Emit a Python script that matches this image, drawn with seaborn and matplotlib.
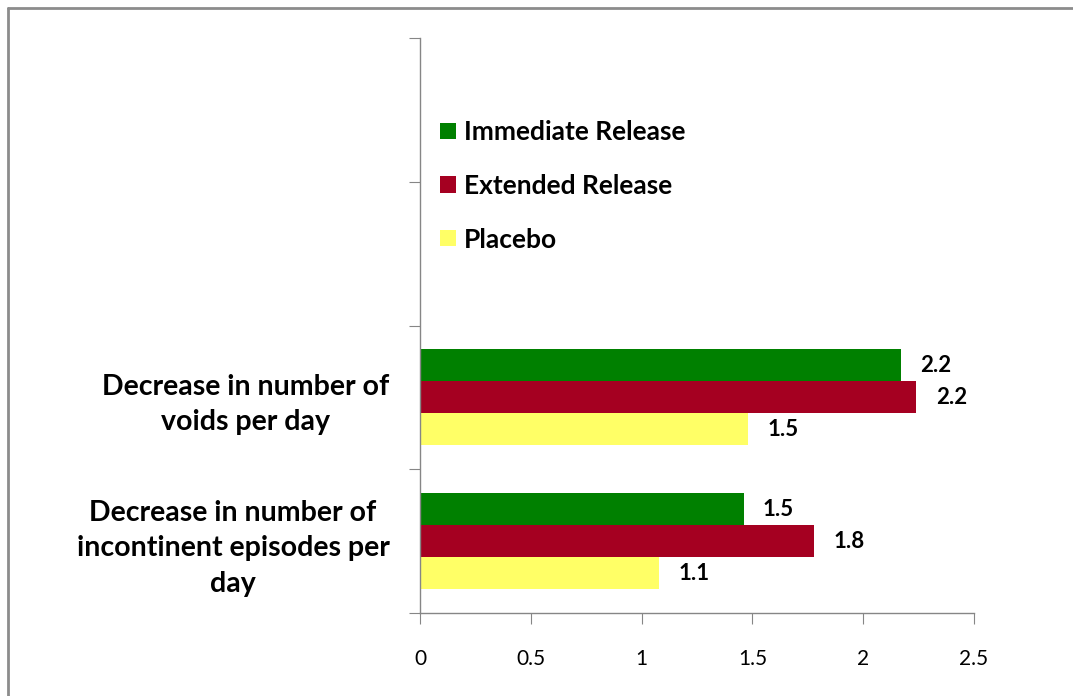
#!/usr/bin/env python3
"""Decrease in voids / incontinent episodes per day by formulation."""

import matplotlib

matplotlib.use("Agg")
import matplotlib.pyplot as plt
import pandas as pd
import seaborn as sns
from matplotlib.lines import Line2D

MEASURES = [
    "Decrease in number of\nvoids per day",
    "Decrease in number of\nincontinent episodes per\nday",
]
FORMULATIONS = ["Immediate Release", "Extended Release", "Placebo"]
IMMEDIATE = [2.17, 1.46]
EXTENDED = [2.24, 1.78]
PLACEBO = [1.48, 1.08]
COLORS = ["#008000", "#A50021", "#FFFF66"]
X_TICKS = [0, 0.5, 1, 1.5, 2, 2.5]


def build_frame() -> pd.DataFrame:
    rows = []
    for form, vals in zip(FORMULATIONS, [IMMEDIATE, EXTENDED, PLACEBO]):
        for measure, v in zip(MEASURES, vals):
            rows.append({"measure": measure, "formulation": form, "value": v})
    return pd.DataFrame(rows)


def main() -> None:
    sns.set_style("white")
    plt.rcParams["font.family"] = ["Lato", "DejaVu Sans"]
    plt.rcParams["text.color"] = "black"
    plt.rcParams["xtick.color"] = "#868686"
    plt.rcParams["xtick.labelcolor"] = "black"
    plt.rcParams["ytick.labelcolor"] = "black"

    df = build_frame()
    fig = plt.figure(figsize=(10.73, 6.96), dpi=100)
    ax = fig.add_axes([420 / 1073, 1 - 613 / 696, 554 / 1073, 575 / 696])

    sns.barplot(
        data=df,
        y="measure",
        x="value",
        hue="formulation",
        order=MEASURES,
        hue_order=FORMULATIONS,
        palette=COLORS,
        saturation=1,
        orient="h",
        width=0.667,
        errorbar=None,
        linewidth=0,
        ax=ax,
    )

    for container in ax.containers:
        vals = [bar.get_width() for bar in container]
        ax.bar_label(
            container,
            labels=[f"{v:.1f}" for v in vals],
            padding=14,
            fontsize=16,
            fontweight="bold",
            color="black",
        )

    ax.set_xlim(0, 2.5)
    ax.set_ylim(1.5, -2.5)
    ax.set_xticks(X_TICKS)
    ax.set_xticklabels(["0", "0.5", "1", "1.5", "2", "2.5"], fontsize=15)
    ax.set_yticks([1.5, 0.5, -0.5, -1.5, -2.5])
    ax.set_yticklabels([])
    ax.set_yticks([0, 1], minor=True)
    ax.set_yticklabels(MEASURES, minor=True, fontsize=20.5, fontweight="bold")
    for lbl in ax.get_yticklabels(minor=True):
        lbl.set_multialignment("center")
        lbl.set_linespacing(1.45)
    ax.tick_params(axis="y", which="major", length=8, color="#868686", left=True)
    ax.tick_params(axis="y", which="minor", length=0, pad=22)
    ax.tick_params(axis="x", which="major", length=8, color="#868686",
                   bottom=True, pad=18)
    ax.set_xlabel("")
    ax.set_ylabel("")

    for side in ["top", "right"]:
        ax.spines[side].set_visible(False)
    for side in ["left", "bottom"]:
        ax.spines[side].set_color("#868686")
        ax.spines[side].set_linewidth(1.0)

    handles, labels = ax.get_legend_handles_labels()
    ax.legend(
        handles,
        labels,
        loc="upper left",
        bbox_to_anchor=(-0.006, 0.898),
        frameon=False,
        handlelength=0.58,
        handleheight=0.58,
        handletextpad=0.32,
        labelspacing=1.12,
        prop={"size": 19, "weight": "bold"},
    )

    # outer chart border (top and left edges are visible)
    fig.add_artist(Line2D([7.5 / 1073, 1.0], [1 - 7.5 / 696] * 2,
                          transform=fig.transFigure, color="#8c8c8c", lw=2))
    fig.add_artist(Line2D([7.5 / 1073] * 2, [0.0, 1 - 7.5 / 696],
                          transform=fig.transFigure, color="#8c8c8c", lw=2))

    fig.savefig("out.png", dpi=100)
    plt.close(fig)


if __name__ == "__main__":
    main()
